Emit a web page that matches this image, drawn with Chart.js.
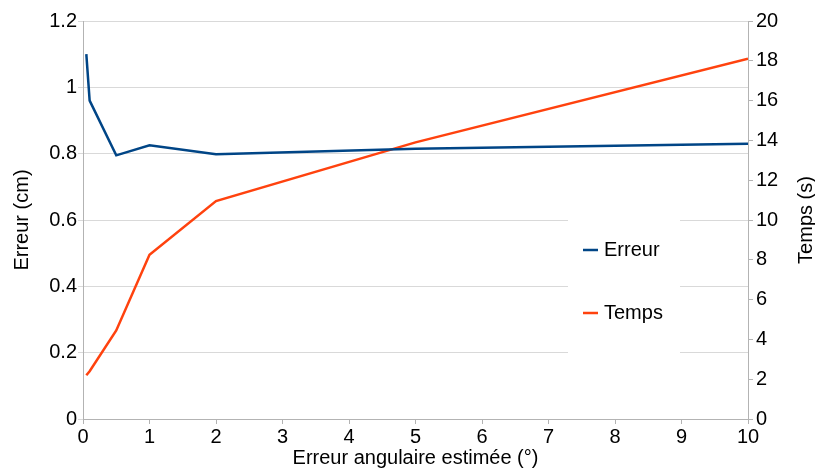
<!DOCTYPE html>
<html>
<head>
<meta charset="utf-8">
<script src="https://cdn.jsdelivr.net/npm/chart.js@4"></script>
<style>
  body { margin: 0; background: #fff; }
  canvas { display: block; }
</style>
</head>
<body>
<canvas id="js--chart" width="815" height="470"></canvas>
<script>
const angles = [0.05, 0.1, 0.5, 1, 2, 5, 10];
const erreur = [1.1, 0.96, 0.795, 0.825, 0.798, 0.815, 0.83];
const temps = [2.2, 2.4, 4.45, 8.25, 10.95, 13.9, 18.1];
const xTicks = [0, 1, 2, 3, 4, 5, 6, 7, 8, 9, 10];
const leftTicks = [0, 0.2, 0.4, 0.6, 0.8, 1, 1.2];
const rightTicks = [0, 2, 4, 6, 8, 10, 12, 14, 16, 18, 20];

const blue = "#004586";
const orange = "#ff420e";
const font = { family: "Liberation Sans", size: 20 };

// legende dans un cadre blanc + titre de droite (lu de bas en haut)
const extras = {
    id: "extras",
    afterDatasetsDraw(chart) {
        const ctx = chart.ctx;
        ctx.save();
        ctx.fillStyle = "#fff";
        ctx.fillRect(568, 212, 112, 144);
        ctx.font = "20px 'Liberation Sans'";
        ctx.textBaseline = "middle";
        chart.data.datasets.forEach(function (ds, i) {
            const y = 250 + i * 63;
            ctx.strokeStyle = ds.borderColor;
            ctx.lineWidth = 2.5;
            ctx.beginPath();
            ctx.moveTo(583, y);
            ctx.lineTo(598, y);
            ctx.stroke();
            ctx.fillStyle = "#000";
            ctx.fillText(ds.label, 604, y);
        });
        const area = chart.chartArea;
        ctx.translate(806, (area.top + area.bottom) / 2);
        ctx.rotate(-Math.PI / 2);
        ctx.textAlign = "center";
        ctx.fillText("Temps (s)", 0, 0);
        ctx.restore();
    }
};

const data = {
    datasets: [
        {
            label: "Erreur",
            data: angles.map(function (a, i) { return { x: a, y: erreur[i] }; }),
            borderColor: blue,
            backgroundColor: blue,
            borderWidth: 2.5,
            pointRadius: 0,
            yAxisID: "y"
        },
        {
            label: "Temps",
            data: angles.map(function (a, i) { return { x: a, y: temps[i] }; }),
            borderColor: orange,
            backgroundColor: orange,
            borderWidth: 2.5,
            pointRadius: 0,
            yAxisID: "y2"
        }
    ]
};

const config = {
    type: "line",
    data: data,
    options: {
        responsive: false,
        animation: false,
        layout: { padding: { top: 21, left: 0, right: 0, bottom: 0 } },
        plugins: { legend: { display: false }, tooltip: { enabled: false } },
        scales: {
            x: {
                type: "linear",
                min: 0,
                max: 10,
                afterBuildTicks: function (s) { s.ticks = xTicks.map(function (v) { return { value: v }; }); },
                afterFit: function (s) { s.height = 51; },
                grid: { display: true, drawOnChartArea: false, color: "#b3b3b3", tickLength: 5 },
                border: { color: "#b3b3b3" },
                ticks: { font: font, color: "#000", padding: 1, maxRotation: 0 },
                title: { display: true, text: "Erreur angulaire estimée (°)", font: font, color: "#000", padding: 0 }
            },
            y: {
                position: "left",
                min: 0,
                max: 1.2,
                afterBuildTicks: function (s) { s.ticks = leftTicks.map(function (v) { return { value: v }; }); },
                afterFit: function (s) { s.width = 83; },
                grid: { color: "#d9d9d9", tickLength: 5 },
                border: { color: "#b3b3b3" },
                ticks: { font: font, color: "#000", padding: 1, callback: function (v) { return String(v); } },
                title: { display: true, text: "Erreur (cm)", font: font, color: "#000", padding: { top: 10, bottom: 0 } }
            },
            y2: {
                position: "right",
                min: 0,
                max: 20,
                afterBuildTicks: function (s) { s.ticks = rightTicks.map(function (v) { return { value: v }; }); },
                afterFit: function (s) { s.width = 67; },
                grid: { drawOnChartArea: false, color: "#b3b3b3", tickLength: 5 },
                border: { color: "#b3b3b3" },
                ticks: { font: font, color: "#000", padding: 3 },
                title: { display: false }
            }
        }
    },
    plugins: [extras]
};

new Chart(document.getElementById("js--chart"), config);
</script>
</body>
</html>
